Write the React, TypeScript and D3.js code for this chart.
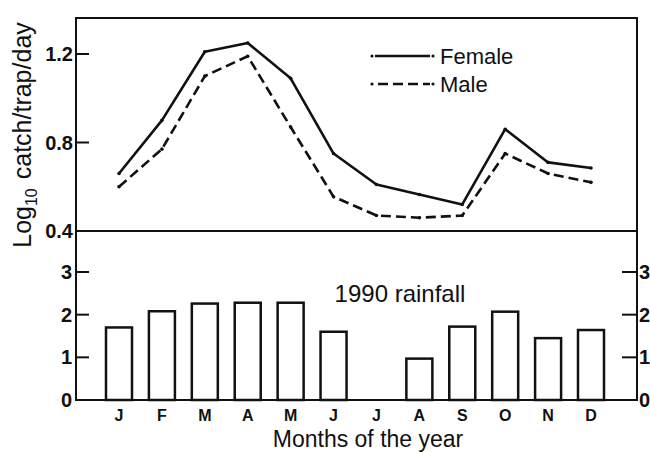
import React from "react";
import * as d3 from "d3";

const months = ["J", "F", "M", "A", "M", "J", "J", "A", "S", "O", "N", "D"];
const female = [0.66, 0.9, 1.21, 1.25, 1.09, 0.75, 0.61, 0.565, 0.52, 0.86, 0.71, 0.685];
const male = [0.6, 0.77, 1.1, 1.19, 0.87, 0.555, 0.47, 0.46, 0.47, 0.75, 0.66, 0.62];
const rainfall = [1.7, 2.08, 2.26, 2.28, 2.28, 1.6, 0, 0.97, 1.72, 2.07, 1.45, 1.64];
const catchTicks = [0.4, 0.8, 1.2];
const rainTicks = [0, 1, 2, 3];
const catchTickLabels = ["0.4", "0.8", "1.2"];

const W = 650;
const H = 452;
const L = 76;
const R = 637;
const TOP = 18;
const MID = 231;
const BOT = 400;
const FONT = "'Liberation Sans', Arial, sans-serif";

export default function App() {
  const idx = months.map((_, i) => i);
  const x = d3.scalePoint<number>().domain(idx).range([119, 591]);
  const yTop = d3.scaleLinear().domain([0.4, 1.2]).range([MID, 54]);
  const yBot = d3.scaleLinear().domain([0, 3]).range([BOT, 272]);
  const line = d3
    .line<number>()
    .x((_, i) => x(i) as number)
    .y((d) => yTop(d));
  const barW = 26;

  return (
    <div style={{ position: "fixed", left: 0, top: 0 }}>
      <svg width={W} height={H} style={{ display: "block", background: "#fff" }}>
        <rect x={0} y={0} width={W} height={H} fill="#fff" />
        {/* frame */}
        <rect x={L} y={TOP} width={R - L} height={BOT - TOP} fill="none" stroke="#111" strokeWidth={2} />
        <line x1={L} x2={R} y1={MID} y2={MID} stroke="#111" strokeWidth={2} />

        {/* top axis ticks */}
        {catchTicks.map((t, i) => (
          <g key={"ct" + i}>
            {t > 0.4 && <line x1={L} x2={L + 13} y1={yTop(t)} y2={yTop(t)} stroke="#111" strokeWidth={2} />}
            <text x={L - 3} y={yTop(t) + 7} textAnchor="end" fontFamily={FONT} fontWeight="bold" fontSize={20} fill="#111">
              {catchTickLabels[i]}
            </text>
          </g>
        ))}

        {/* bottom axis ticks */}
        {rainTicks.map((t) => (
          <g key={"rt" + t}>
            {t > 0 && <line x1={L} x2={L + 13} y1={yBot(t)} y2={yBot(t)} stroke="#111" strokeWidth={2} />}
            {t > 0 && <line x1={R - 15} x2={R} y1={yBot(t)} y2={yBot(t)} stroke="#111" strokeWidth={2} />}
            <text x={L - 4} y={yBot(t) + 7} textAnchor="end" fontFamily={FONT} fontWeight="bold" fontSize={20} fill="#111">
              {t}
            </text>
            <text x={R + 2} y={yBot(t) + 7} textAnchor="start" fontFamily={FONT} fontWeight="bold" fontSize={20} fill="#111">
              {t}
            </text>
          </g>
        ))}

        {/* bars */}
        {rainfall.map((v, i) =>
          v > 0 ? (
            <rect
              key={"b" + i}
              x={(x(i) as number) - barW / 2}
              y={yBot(v)}
              width={barW}
              height={yBot(0) - yBot(v)}
              fill="#fff"
              stroke="#111"
              strokeWidth={2.5}
            />
          ) : null
        )}

        {/* lines */}
        <path d={line(female) || ""} fill="none" stroke="#111" strokeWidth={2.6} strokeLinejoin="round" />
        <path d={line(male) || ""} fill="none" stroke="#111" strokeWidth={2.6} strokeDasharray="10,5" strokeLinejoin="round" />
        {female.map((v, i) => (
          <circle key={"fd" + i} cx={x(i) as number} cy={yTop(v)} r={1.8} fill="#111" />
        ))}
        {male.map((v, i) => (
          <circle key={"md" + i} cx={x(i) as number} cy={yTop(v)} r={1.8} fill="#111" />
        ))}

        {/* legend */}
        <line x1={375} x2={430} y1={56} y2={56} stroke="#111" strokeWidth={2.6} />
        <circle cx={372} cy={56} r={1.6} fill="#111" />
        <circle cx={433} cy={56} r={1.6} fill="#111" />
        <text x={440} y={64} fontFamily={FONT} fontSize={22} fill="#111">Female</text>
        <line x1={378} x2={430} y1={84} y2={84} stroke="#111" strokeWidth={2.6} strokeDasharray="10,5" />
        <circle cx={372} cy={84} r={1.6} fill="#111" />
        <circle cx={433} cy={84} r={1.6} fill="#111" />
        <text x={440} y={92} fontFamily={FONT} fontSize={22} fill="#111">Male</text>

        <text x={400} y={302} textAnchor="middle" fontFamily={FONT} fontSize={24} fill="#111">1990 rainfall</text>

        {/* month labels */}
        {months.map((m, i) => (
          <text key={"m" + i} x={x(i) as number} y={421} textAnchor="middle" fontFamily={FONT} fontWeight="bold" fontSize={16} fill="#111">
            {m}
          </text>
        ))}
        <text x={368} y={447} textAnchor="middle" fontFamily={FONT} fontSize={23} fill="#111">Months of the year</text>

        {/* y title */}
        <text transform="translate(31,135) rotate(-90)" textAnchor="middle" fontFamily={FONT} fontSize={25} fill="#111">
          <tspan>Log</tspan>
          <tspan fontSize={16} dy={6}>10</tspan>
          <tspan dy={-6} dx={9}>catch/trap/day</tspan>
        </text>
      </svg>
    </div>
  );
}
